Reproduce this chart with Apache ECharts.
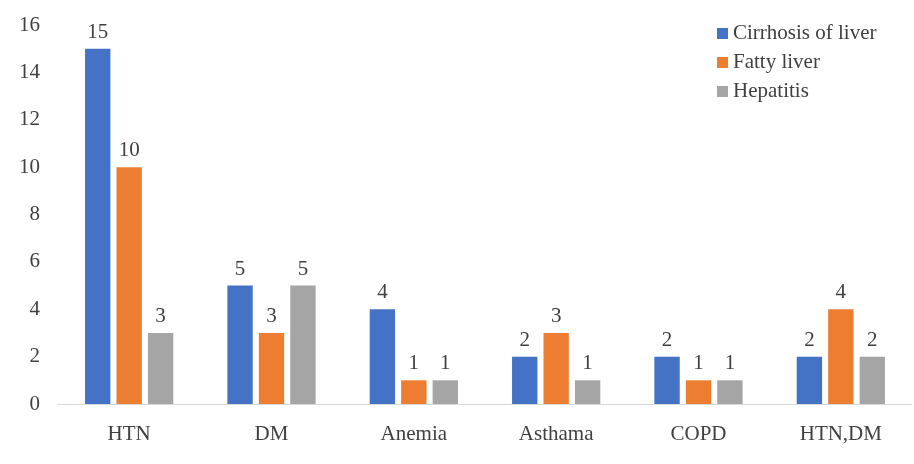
<!DOCTYPE html>
<html>
<head>
<meta charset="utf-8">
<script src="https://cdn.jsdelivr.net/npm/echarts@6/dist/echarts.min.js"></script>
<style>html,body{margin:0;padding:0;background:#fff}#main{width:914px;height:464px}</style>
</head>
<body>
<div id="main"></div>
<script>
var categories = ['HTN', 'DM', 'Anemia', 'Asthama', 'COPD', 'HTN,DM'];
var cirrhosis = [15, 5, 4, 2, 2, 2];
var fattyLiver = [10, 3, 1, 3, 1, 4];
var hepatitis = [3, 5, 1, 1, 1, 2];

var font = 'Liberation Serif';
var myChart = echarts.init(document.getElementById('main'));

function bar(name, data, color) {
    return {
        name: name,
        type: 'bar',
        data: data,
        barGap: '24%',
        barCategoryGap: '38%',
        itemStyle: {color: color},
        label: {show: true, position: 'top', distance: 6, color: '#404040', fontFamily: font, fontSize: 21}
    };
}

var option = {
    animation: false,
    textStyle: {fontFamily: font},
    grid: {left: 58, right: 2, top: 25, bottom: 60},
    legend: {
        orient: 'vertical',
        left: 712,
        top: 18,
        itemWidth: 11,
        itemHeight: 11,
        itemGap: 8,
        icon: 'rect',
        textStyle: {fontFamily: font, fontSize: 21, color: '#404040'}
    },
    xAxis: {
        type: 'category',
        data: categories,
        axisTick: {show: false},
        axisLine: {lineStyle: {color: '#d9d9d9', width: 1}},
        axisLabel: {fontFamily: font, fontSize: 21, color: '#404040', margin: 20}
    },
    yAxis: {
        type: 'value',
        min: 0,
        max: 16,
        interval: 2,
        splitLine: {show: false},
        axisLine: {show: false},
        axisTick: {show: false},
        axisLabel: {fontFamily: font, fontSize: 21, color: '#404040', margin: 18}
    },
    series: [
        bar('Cirrhosis of liver', cirrhosis, '#4472C4'),
        bar('Fatty liver', fattyLiver, '#ED7D31'),
        bar('Hepatitis', hepatitis, '#A5A5A5')
    ]
};
myChart.setOption(option);
</script>
</body>
</html>
